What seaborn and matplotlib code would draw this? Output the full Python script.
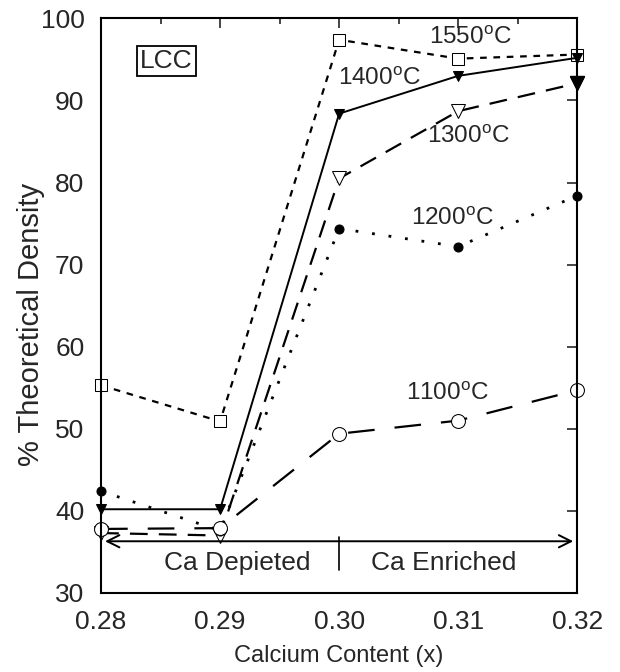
import numpy as np
import pandas as pd
import matplotlib
matplotlib.use("Agg")
import matplotlib.pyplot as plt
import seaborn as sns
from matplotlib.ticker import MultipleLocator

# Données
x = [0.28, 0.29, 0.30, 0.31, 0.32]
d1550 = [55.3, 50.9, 97.4, 95.1, 95.6]
d1400 = [40.2, 40.2, 88.4, 93.0, 95.2]
d1300 = [37.3, 37.0, 80.5, 88.7, 92.1]
d1200 = [42.4, 37.6, 74.4, 72.2, 78.4]
d1100 = [37.8, 37.9, 49.4, 51.0, 54.7]
labels = ["1550$^{\\mathregular{o}}$C", "1400$^{\\mathregular{o}}$C", "1300$^{\\mathregular{o}}$C",
          "1200$^{\\mathregular{o}}$C", "1100$^{\\mathregular{o}}$C"]

sns.set_style("white")
plt.rcParams['font.family'] = ['Liberation Sans', 'DejaVu Sans']
plt.rcParams['mathtext.fontset'] = 'custom'
plt.rcParams['mathtext.rm'] = 'Liberation Sans'

fig = plt.figure(figsize=(6.2, 6.72), dpi=100)
ax = fig.add_axes([0.163, 0.1176, 0.768, 0.855])

styles = [
    (d1550, dict(marker='s', mfc='white', mec='black', ms=8, dashes=(3, 3), lw=1.6)),
    (d1400, dict(marker='v', mfc='black', mec='black', ms=7, dashes=None, lw=1.4)),
    (d1300, dict(marker='v', mfc='white', mec='black', ms=10.5, dashes=(8, 5), lw=1.6)),
    (d1200, dict(marker='o', mfc='black', mec='black', ms=6.5, dashes=(1, 5), lw=2.0)),
    (d1100, dict(marker='o', mfc='white', mec='black', ms=10, dashes=(12, 9), lw=1.6)),
]
for vals, kw in styles:
    df = pd.DataFrame({'x': x, 'y': vals})
    dashes = kw.pop('dashes')
    sns.lineplot(data=df, x='x', y='y', ax=ax, color='black', clip_on=False, **kw)
    if dashes is not None:
        ax.lines[-1].set_dashes(dashes)
# le dernier point à 1300 est plein dans l'original
ax.plot([x[-1]], [d1300[-1]], marker='v', color='black', ms=10.5, ls='none', clip_on=False)

# Étiquettes des courbes
fs = 17.5
ax.text(0.3110, 97.7, labels[0], ha='center', va='center', fontsize=fs)
ax.text(0.3034, 92.7, labels[1], ha='center', va='center', fontsize=fs)
ax.text(0.3109, 85.6, labels[2], ha='center', va='center', fontsize=fs)
ax.text(0.3095, 75.6, labels[3], ha='center', va='center', fontsize=fs)
ax.text(0.3091, 54.3, labels[4], ha='center', va='center', fontsize=fs)
ax.text(0.2855, 94.8, 'LCC', ha='center', va='center', fontsize=19,
        bbox=dict(boxstyle='square,pad=0.12', fc='white', ec='black', lw=1.3))

# Flèche Ca Depleted / Ca Enriched
ax.annotate('', xy=(0.2801, 36.3), xytext=(0.3199, 36.3),
            arrowprops=dict(arrowstyle='<->', color='black', lw=1.4, mutation_scale=22))
ax.plot([0.30, 0.30], [36.8, 32.8], color='black', lw=1.2)
ax.text(0.2914, 33.6, 'Ca Depieted', ha='center', va='center', fontsize=19)
ax.text(0.3088, 33.6, 'Ca Enriched', ha='center', va='center', fontsize=19)

ax.set_xlim(0.28, 0.32)
ax.set_ylim(30, 100)
ax.set_xticks(x)
ax.set_xticklabels(['0.28', '0.29', '0.30', '0.31', '0.32'])
ax.xaxis.set_minor_locator(MultipleLocator(0.005))
ax.yaxis.set_major_locator(MultipleLocator(10))
ax.tick_params(which='both', direction='in', top=True, right=True, labelsize=19, width=1.2)
ax.tick_params(which='major', length=7)
ax.tick_params(which='minor', length=4)
ax.tick_params(axis='x', pad=12)
ax.tick_params(axis='y', pad=12)
for s in ax.spines.values():
    s.set_color('black')
    s.set_linewidth(1.5)
ax.set_xlabel('Calcium Content (x)', fontsize=17, labelpad=8)
ax.set_ylabel('% Theoretical Density', fontsize=21)
ax.yaxis.set_label_coords(-0.118, 0.468)

fig.savefig('out.png', dpi=100)
